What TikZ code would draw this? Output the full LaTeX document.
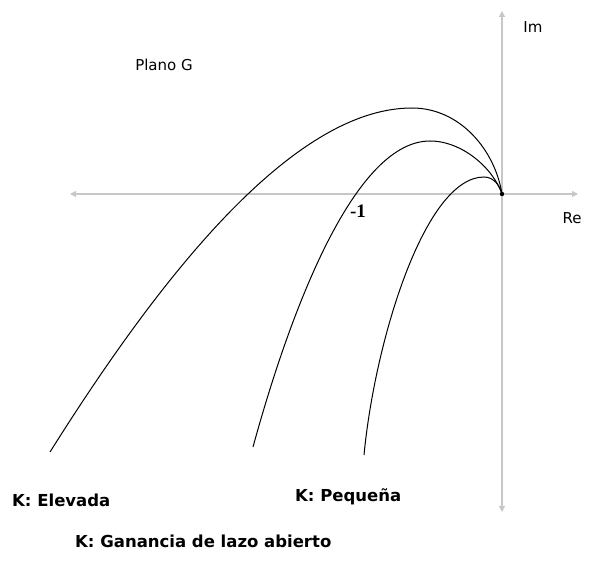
\documentclass[tikz,border=0pt]{standalone}
\usepackage{fontspec}
\setmainfont{DejaVu Sans}
\newfontfamily\serifnum{Liberation Serif}
\usetikzlibrary{arrows.meta}
\tikzset{
  axisline/.style={draw=black!22, line width=1.2pt, -{Triangle[length=6pt,width=6pt]}},
  locus/.style={line width=1pt},
  plainlbl/.style={font=\fontsize{15}{17}\selectfont, inner sep=0pt},
  boldlbl/.style={font=\fontsize{16.5}{19}\selectfont\bfseries, inner sep=0pt, anchor=west}
}

\begin{document}
\begin{tikzpicture}[x=1pt, y=-1pt]
		%%%%% START %%%%%
		\useasboundingbox (0, 0) rectangle (589, 564);
		
		% axes
		\coordinate (O) at (502, 194);
		\coordinate (reEnd) at (578, 194);
		\coordinate (reNeg) at (70, 194);
		\coordinate (imEnd) at (502, 11);
		\coordinate (imNeg) at (502, 512);
		\draw[axisline] (O) -- (reEnd);
		\draw[axisline] (O) -- (reNeg);
		\draw[axisline] (O) -- (imEnd);
		\draw[axisline] (O) -- (imNeg);
		
		% loci, high to low gain
		\draw[locus] (50, 452) .. controls (155, 285) and (290, 108) .. (412, 108)
		  .. controls (460, 108) and (495, 150) .. (O);
		\draw[locus] (253, 447) .. controls (285, 330) and (350, 141) .. (430, 141)
		  .. controls (462, 141) and (493, 168) .. (O);
		\draw[locus] (364, 455) .. controls (375, 340) and (425, 177) .. (484, 177)
		  .. controls (494, 177) and (500, 186) .. (O);
		\fill (O) circle (2.2);
		
		\node[plainlbl] (im) at (533, 27) {Im};
		\node[plainlbl] (re) at (572, 218) {Re};
		\node[plainlbl] (plano) at (164, 65) {Plano G};
		\node[inner sep=0pt, font=\serifnum\fontsize{19}{21}\selectfont\bfseries] (minusone) at (358, 211) {-1};
		
		\node[boldlbl] (kHigh) at (12, 500) {K: Elevada};
		\node[boldlbl] (kLow) at (295, 497) {K: Pequeña};
		\node[boldlbl] (kDef) at (75, 541) {K: Ganancia de lazo abierto};
		%%%%% END %%%%%
	\end{tikzpicture}
\end{document}
